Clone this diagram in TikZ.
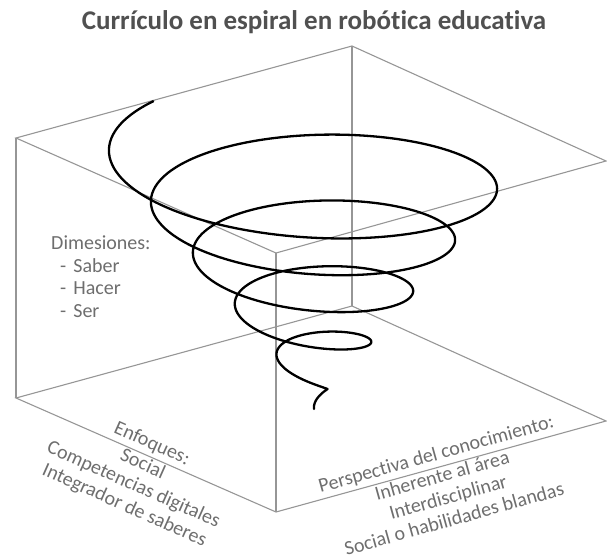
\documentclass[tikz,border=0pt]{standalone}
\usepackage{fontspec}
\setmainfont{Carlito}[Ligatures={NoCommon,NoContextual}]
\usetikzlibrary{positioning}

\definecolor{boxgray}{RGB}{150,150,150}
\definecolor{labelgray}{RGB}{110,110,110}
\definecolor{titlegray}{RGB}{80,80,80}

\begin{document}
\begin{tikzpicture}[x=1pt, y=-1pt,
    edge/.style={draw=boxgray, line width=1.1pt},
    coil/.style={line width=2.3pt, line cap=round, line join=round},
    lbl/.style={text=labelgray, font=\fontsize{20}{22.5}\selectfont, inner sep=0pt, align=center}]

    \def \cx {313.5}
    \def \rad {225.5} % radius of the widest turn
    \def \shrink {0.1167} % radius lost per degree

    \useasboundingbox (0,0) rectangle (607,559);

    \node[font=\bfseries\fontsize{27}{30}\selectfont, text=titlegray] (title) at (314,22)
      {Currículo en espiral en robótica educativa};

    % corners of the box
    \coordinate (tb) at (352,46);
    \coordinate (tl) at (16,138);
    \coordinate (tf) at (276,253);
    \coordinate (tr) at (606,161);
    \coordinate (bb) at (352,306);
    \coordinate (bl) at (16,398);
    \coordinate (bf) at (276,512);
    \coordinate (br) at (606,421);

    \draw[edge] (tl) -- (tb) -- (tr) -- (tf) -- cycle;
    \draw[edge] (bl) -- (bb) -- (br) -- (bf) -- cycle;
    \foreach \c in {l,f,b}
      \draw[edge] (t\c) -- (b\c);

    % the spiral
    \draw[coil] plot[domain=140:1752, samples=600, smooth, variable=\t]
      ({\cx + (\rad - \shrink*\t)*cos(\t)},
       {131.4 + 0.1424*\t - 0.35*(\rad - \shrink*\t)*sin(\t) + 4*cos(\t)})
      .. controls (320,394) and (313,401) .. (314,409);

    \node[lbl, anchor=north west, align=left] (dims) at (51,236)
      {Dimesiones:\\\hspace*{9pt}-\hspace*{7pt}Saber\\\hspace*{9pt}-\hspace*{7pt}Hacer\\\hspace*{9pt}-\hspace*{7pt}Ser};

    \node[lbl, rotate=-24] (focus) at (138,475)
      {Enfoques:\\Social\\Competencias digitales\\Integrador de saberes};

    \node[lbl, rotate=15.6] (views) at (445,486)
      {Perspectiva del conocimiento:\\Inherente al área\\Interdisciplinar\\Social o habilidades blandas};
\end{tikzpicture}
\end{document}
